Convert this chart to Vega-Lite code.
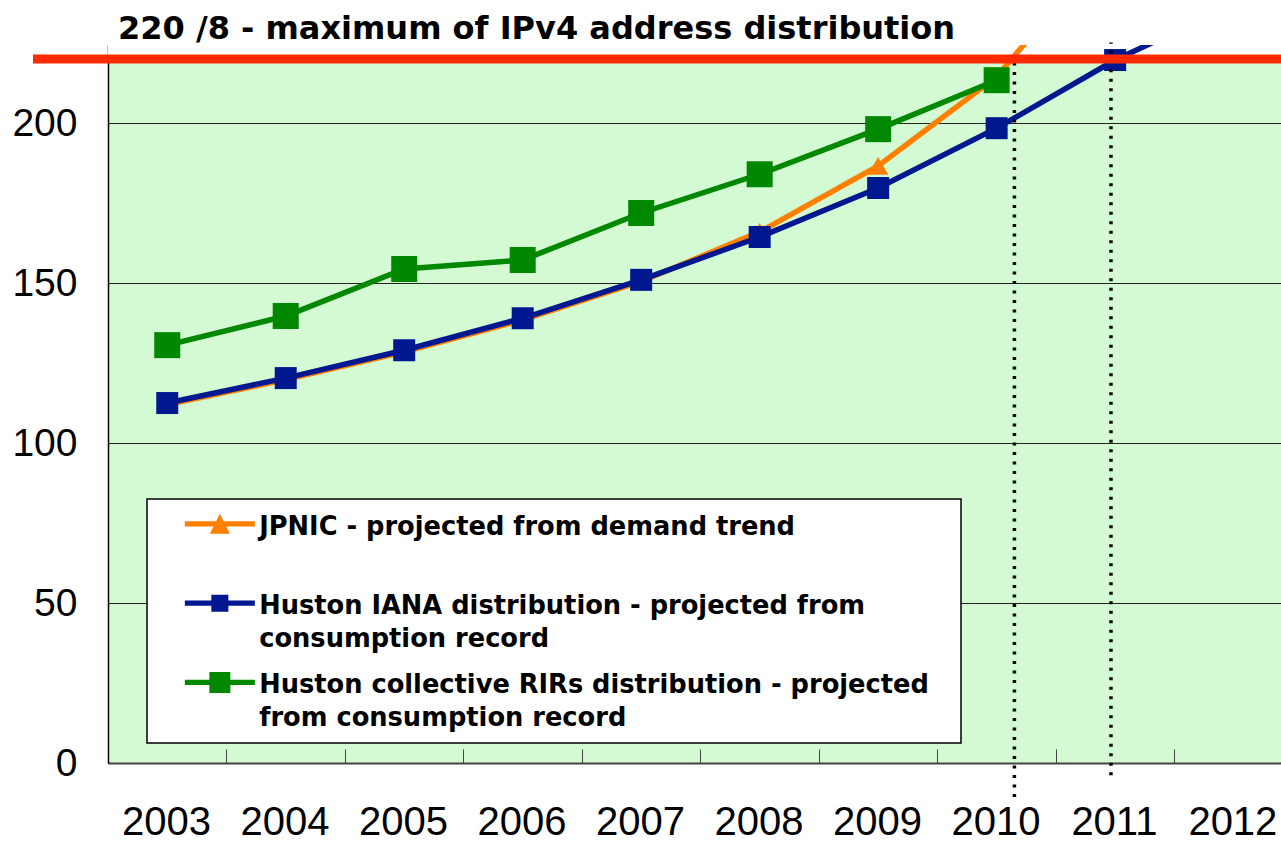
{
  "$schema": "https://vega.github.io/schema/vega-lite/v6.json",
  "width": 1173,
  "height": 718,
  "autosize": {"type": "none"},
  "padding": {"left": 108, "top": 45, "right": 0, "bottom": 79},
  "background": "white",
  "config": {"view": {"stroke": null, "fill": "#d4fad4"}},
  "title": {
    "text": "220 /8 - maximum of IPv4 address distribution",
    "anchor": "start",
    "frame": "group",
    "font": "DejaVu Sans",
    "fontSize": 32,
    "fontWeight": "bold",
    "color": "black",
    "dx": 10,
    "dy": 13,
    "offset": 8
  },
  "datasets": {
    "projections": [
      {"year": 2003, "series": "JPNIC - projected from demand trend", "value": 112.0},
      {"year": 2004, "series": "JPNIC - projected from demand trend", "value": 119.8},
      {"year": 2005, "series": "JPNIC - projected from demand trend", "value": 128.5},
      {"year": 2006, "series": "JPNIC - projected from demand trend", "value": 138.5},
      {"year": 2007, "series": "JPNIC - projected from demand trend", "value": 150.5},
      {"year": 2008, "series": "JPNIC - projected from demand trend", "value": 166.0},
      {"year": 2009, "series": "JPNIC - projected from demand trend", "value": 186.6},
      {"year": 2010, "series": "JPNIC - projected from demand trend", "value": 214.5},
      {"year": 2011, "series": "JPNIC - projected from demand trend", "value": 258.0},
      {"year": 2003, "series": "Huston IANA distribution - projected from consumption record", "value": 112.5},
      {"year": 2004, "series": "Huston IANA distribution - projected from consumption record", "value": 120.3},
      {"year": 2005, "series": "Huston IANA distribution - projected from consumption record", "value": 129.0},
      {"year": 2006, "series": "Huston IANA distribution - projected from consumption record", "value": 139.0},
      {"year": 2007, "series": "Huston IANA distribution - projected from consumption record", "value": 151.0},
      {"year": 2008, "series": "Huston IANA distribution - projected from consumption record", "value": 164.4},
      {"year": 2009, "series": "Huston IANA distribution - projected from consumption record", "value": 179.7},
      {"year": 2010, "series": "Huston IANA distribution - projected from consumption record", "value": 198.4},
      {"year": 2011, "series": "Huston IANA distribution - projected from consumption record", "value": 219.7},
      {"year": 2012, "series": "Huston IANA distribution - projected from consumption record", "value": 237.0},
      {"year": 2003, "series": "Huston collective RIRs distribution - projected from consumption record", "value": 130.6},
      {"year": 2004, "series": "Huston collective RIRs distribution - projected from consumption record", "value": 139.7},
      {"year": 2005, "series": "Huston collective RIRs distribution - projected from consumption record", "value": 154.4},
      {"year": 2006, "series": "Huston collective RIRs distribution - projected from consumption record", "value": 157.2},
      {"year": 2007, "series": "Huston collective RIRs distribution - projected from consumption record", "value": 171.9},
      {"year": 2008, "series": "Huston collective RIRs distribution - projected from consumption record", "value": 184.0},
      {"year": 2009, "series": "Huston collective RIRs distribution - projected from consumption record", "value": 198.1},
      {"year": 2010, "series": "Huston collective RIRs distribution - projected from consumption record", "value": 213.4}
    ],
    "exhaustion": [
      {"date": 2010.15, "low": -10.6, "high": 220},
      {"date": 2010.965, "low": -3.8, "high": 225.2}
    ]
  },
  "layer": [
    {
      "data": {"values": [{}]},
      "mark": {"type": "rect", "color": "white", "clip": true},
      "encoding": {
        "x": {"datum": 2002.5, "type": "quantitative", "scale": {"domain": [2002.5, 2012.4], "nice": false, "zero": false}},
        "x2": {"datum": 2012.4},
        "y": {"datum": 220, "type": "quantitative", "scale": {"domain": [0, 224.4], "nice": false}},
        "y2": {"datum": 230}
      }
    },
    {
      "data": {"name": "projections"},
      "transform": [{"filter": {"field": "series", "equal": "JPNIC - projected from demand trend"}}],
      "mark": {"type": "line", "strokeWidth": 5.5, "clip": true},
      "encoding": {
        "x": {
          "field": "year", "type": "quantitative",
          "scale": {"domain": [2002.5, 2012.4], "nice": false, "zero": false},
          "axis": {
            "title": null,
            "values": [2002.5, 2003.5, 2004.5, 2005.5, 2006.5, 2007.5, 2008.5, 2009.5, 2010.5, 2011.5],
            "labelExpr": "datum.value + 0.5",
            "labelOffset": 58,
            "labelFlush": false,
            "labelOverlap": false,
            "labelFont": "Liberation Sans",
            "labelFontSize": 40,
            "labelColor": "black",
            "labelPadding": 53,
            "tickSize": -14,
            "tickColor": "#444444",
            "tickWidth": 1,
            "domainColor": "#444444",
            "domainWidth": 2,
            "grid": false
          }
        },
        "y": {
          "field": "value", "type": "quantitative",
          "scale": {"domain": [0, 224.4], "nice": false},
          "axis": {
            "title": null,
            "values": [0, 50, 100, 150, 200],
            "labelFont": "Liberation Sans",
            "labelFontSize": 39,
            "labelColor": "black",
            "labelPadding": 31,
            "ticks": false,
            "domain": true,
            "domainColor": "black",
            "domainWidth": 1.5,
            "grid": true,
            "gridColor": "#222222",
            "gridWidth": 1
          }
        },
        "color": {
          "field": "series", "type": "nominal",
          "scale": {
            "domain": ["JPNIC - projected from demand trend", "Huston IANA distribution - projected from consumption record", "Huston collective RIRs distribution - projected from consumption record"],
            "range": ["#ff8000", "#00188f", "#008800"]
          },
          "legend": {
            "orient": "none",
            "legendX": 39,
            "legendY": 454,
            "title": null,
            "padding": 12,
            "symbolOffset": 48,
            "symbolSize": 400,
            "labelOffset": 26.5,
            "rowPadding": 17.3,
            "fillColor": "white",
            "strokeColor": "black",
            "labelFont": "DejaVu Sans",
            "labelFontWeight": "bold",
            "labelFontSize": 25.7,
            "labelColor": "black",
            "labelLimit": 1000,
            "labelBaseline": "alphabetic",
            "labelExpr": "datum.value == 'JPNIC - projected from demand trend' ? ['JPNIC - projected from demand trend', ''] : datum.value == 'Huston IANA distribution - projected from consumption record' ? ['Huston IANA distribution - projected from', 'consumption record'] : ['Huston collective RIRs distribution - projected\u2800', 'from consumption record']",
            "encode": {
              "symbols": {
                "update": {
                  "shape": {"signal": "datum.value == 'JPNIC - projected from demand trend' ? 'M-3.5,-0.265H3.5V0.265H-3.5ZM0,-1L1,1H-1Z' : datum.value == 'Huston IANA distribution - projected from consumption record' ? 'M-3.5,-0.265H3.5V0.265H-3.5ZM-0.85,-0.85H0.85V0.85H-0.85Z' : 'M-3.5,-0.265H3.5V0.265H-3.5ZM-1.05,-1.05H1.05V1.05H-1.05Z'"},
                  "fill": {"signal": "scale('color', datum.value)"},
                  "fillOpacity": {"value": 1},
                  "opacity": {"value": 1},
                  "strokeWidth": {"value": 0},
                  "size": {"value": 400}
                }
              },
              "labels": {
                "update": {
                  "dy": {"value": 11},
                  "lineHeight": {"value": 32.5}
                }
              },
              "legend": {
                "update": {
                  "strokeWidth": {"value": 1.5}
                }
              }
            }
          }
        }
      }
    },
    {
      "data": {"name": "projections"},
      "transform": [{"filter": {"field": "series", "equal": "JPNIC - projected from demand trend"}}],
      "mark": {"type": "point", "shape": "triangle-up", "size": 420, "filled": true, "opacity": 1, "clip": true},
      "encoding": {
        "x": {"field": "year", "type": "quantitative", "scale": {"domain": [2002.5, 2012.4], "nice": false, "zero": false}},
        "y": {"field": "value", "type": "quantitative", "scale": {"domain": [0, 224.4], "nice": false}},
        "color": {"field": "series", "type": "nominal"}
      }
    },
    {
      "data": {"name": "projections"},
      "transform": [{"filter": {"field": "series", "equal": "Huston IANA distribution - projected from consumption record"}}],
      "mark": {"type": "line", "strokeWidth": 5.5, "clip": true},
      "encoding": {
        "x": {"field": "year", "type": "quantitative", "scale": {"domain": [2002.5, 2012.4], "nice": false, "zero": false}},
        "y": {"field": "value", "type": "quantitative", "scale": {"domain": [0, 224.4], "nice": false}},
        "color": {"field": "series", "type": "nominal"}
      }
    },
    {
      "data": {"name": "projections"},
      "transform": [{"filter": {"field": "series", "equal": "Huston IANA distribution - projected from consumption record"}}],
      "mark": {"type": "point", "shape": "square", "size": 484, "filled": true, "opacity": 1, "clip": true},
      "encoding": {
        "x": {"field": "year", "type": "quantitative", "scale": {"domain": [2002.5, 2012.4], "nice": false, "zero": false}},
        "y": {"field": "value", "type": "quantitative", "scale": {"domain": [0, 224.4], "nice": false}},
        "color": {"field": "series", "type": "nominal"}
      }
    },
    {
      "data": {"name": "projections"},
      "transform": [{"filter": {"field": "series", "equal": "Huston collective RIRs distribution - projected from consumption record"}}],
      "mark": {"type": "line", "strokeWidth": 5.5, "clip": true},
      "encoding": {
        "x": {"field": "year", "type": "quantitative", "scale": {"domain": [2002.5, 2012.4], "nice": false, "zero": false}},
        "y": {"field": "value", "type": "quantitative", "scale": {"domain": [0, 224.4], "nice": false}},
        "color": {"field": "series", "type": "nominal"}
      }
    },
    {
      "data": {"name": "projections"},
      "transform": [{"filter": {"field": "series", "equal": "Huston collective RIRs distribution - projected from consumption record"}}],
      "mark": {"type": "point", "shape": "square", "size": 676, "filled": true, "opacity": 1, "clip": true},
      "encoding": {
        "x": {"field": "year", "type": "quantitative", "scale": {"domain": [2002.5, 2012.4], "nice": false, "zero": false}},
        "y": {"field": "value", "type": "quantitative", "scale": {"domain": [0, 224.4], "nice": false}},
        "color": {"field": "series", "type": "nominal"}
      }
    },
    {
      "data": {"name": "exhaustion"},
      "mark": {"type": "rule", "color": "black", "strokeWidth": 3.5, "strokeDash": [3, 6.5], "clip": false},
      "encoding": {
        "x": {"field": "date", "type": "quantitative", "scale": {"domain": [2002.5, 2012.4], "nice": false, "zero": false}},
        "y": {"field": "low", "type": "quantitative", "scale": {"domain": [0, 224.4], "nice": false}},
        "y2": {"field": "high"}
      }
    },
    {
      "data": {"values": [{}]},
      "mark": {"type": "rule", "color": "#ff2a00", "strokeWidth": 9, "clip": false},
      "encoding": {
        "x": {"datum": 2001.867, "type": "quantitative", "scale": {"domain": [2002.5, 2012.4], "nice": false, "zero": false}},
        "x2": {"datum": 2012.5},
        "y": {"datum": 220, "type": "quantitative", "scale": {"domain": [0, 224.4], "nice": false}}
      }
    }
  ]
}
